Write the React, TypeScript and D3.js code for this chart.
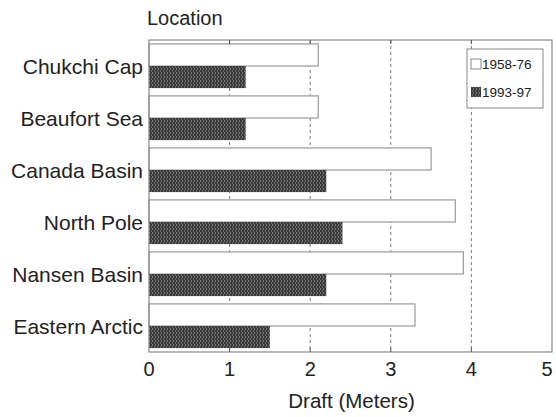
import * as d3 from "d3";
import { useEffect, useRef } from "react";

const locations = ["Chukchi Cap", "Beaufort Sea", "Canada Basin", "North Pole", "Nansen Basin", "Eastern Arctic"];
const early = [2.1, 2.1, 3.5, 3.8, 3.9, 3.3];
const late = [1.2, 1.2, 2.2, 2.4, 2.2, 1.5];
const seriesNames = ["1958-76", "1993-97"];
const xTicks = [0, 1, 2, 3, 4, 5];

const App = () => {
  const svgRef = useRef<SVGSVGElement>(null);

  useEffect(() => {
    const width = 556;
    const height = 417;
    const margin = { top: 40, right: 4, bottom: 65, left: 149 };
    const font = "'Liberation Sans', Arial, sans-serif";

    const svg = d3.select(svgRef.current);
    svg.selectAll("*").remove();

    const defs = svg.append("defs");
    const pat = defs
      .append("pattern")
      .attr("id", "hatch")
      .attr("patternUnits", "userSpaceOnUse")
      .attr("width", 3)
      .attr("height", 4);
    pat.append("rect").attr("width", 3).attr("height", 4).attr("fill", "#3a3a3a");
    pat.append("rect").attr("x", 2).attr("width", 1).attr("height", 2).attr("fill", "#777");
    pat.append("rect").attr("x", 1).attr("y", 2).attr("width", 1).attr("height", 2).attr("fill", "#666");

    const x = d3
      .scaleLinear()
      .domain([0, 5])
      .range([margin.left, width - margin.right]);

    const y = d3
      .scaleBand()
      .domain(locations)
      .range([margin.top, height - margin.bottom])
      .paddingInner(0.15)
      .paddingOuter(0.075);

    const inner = d3.scaleBand().domain(seriesNames).range([0, y.bandwidth()]);

    const top = margin.top;
    const bottom = height - margin.bottom;

    // grid
    svg
      .append("g")
      .selectAll("line")
      .data(xTicks.slice(1, -1))
      .join("line")
      .attr("x1", (d) => x(d))
      .attr("x2", (d) => x(d))
      .attr("y1", top)
      .attr("y2", bottom)
      .attr("stroke", "#555")
      .attr("stroke-dasharray", "3,3")
      .attr("stroke-width", 0.8);

    // bars
    const g = svg.append("g");
    locations.forEach((loc, i) => {
      g.append("rect")
        .attr("x", x(0))
        .attr("y", (y(loc) as number) + (inner("1958-76") as number))
        .attr("width", x(early[i]) - x(0))
        .attr("height", inner.bandwidth())
        .attr("fill", "white")
        .attr("stroke", "#999")
        .attr("stroke-width", 1.2);
      g.append("rect")
        .attr("x", x(0))
        .attr("y", (y(loc) as number) + (inner("1993-97") as number))
        .attr("width", x(late[i]) - x(0))
        .attr("height", inner.bandwidth())
        .attr("fill", "url(#hatch)");
    });

    // frame
    svg
      .append("rect")
      .attr("x", x(0))
      .attr("y", top)
      .attr("width", x(5) - x(0))
      .attr("height", bottom - top)
      .attr("fill", "none")
      .attr("stroke", "#888")
      .attr("stroke-width", 1.2);

    // tick marks top & bottom
    const tk = svg.append("g").attr("stroke", "#555");
    xTicks.slice(1, -1).forEach((t) => {
      tk.append("line").attr("x1", x(t)).attr("x2", x(t)).attr("y1", top).attr("y2", top + 4);
      tk.append("line").attr("x1", x(t)).attr("x2", x(t)).attr("y1", bottom).attr("y2", bottom - 4);
    });

    // tick labels (last one pulled in so it stays on the page)
    svg
      .append("g")
      .selectAll("text")
      .data(xTicks)
      .join("text")
      .attr("x", (d) => Math.min(x(d), width - 9))
      .attr("y", bottom + 24)
      .attr("text-anchor", "middle")
      .attr("font-family", font)
      .attr("font-size", 20)
      .attr("fill", "#222")
      .text((d) => d);

    // category labels
    svg
      .append("g")
      .selectAll("text")
      .data(locations)
      .join("text")
      .attr("x", margin.left - 6)
      .attr("y", (d) => (y(d) as number) + y.bandwidth() / 2 + 7.5)
      .attr("text-anchor", "end")
      .attr("font-family", font)
      .attr("font-size", 21)
      .attr("fill", "#222")
      .text((d) => d);

    svg
      .append("text")
      .attr("x", margin.left - 2)
      .attr("y", 25)
      .attr("font-family", font)
      .attr("font-size", 20)
      .attr("fill", "#222")
      .text("Location");

    svg
      .append("text")
      .attr("x", (x(0) + x(5)) / 2 + 1)
      .attr("y", 408)
      .attr("text-anchor", "middle")
      .attr("font-family", font)
      .attr("font-size", 20.5)
      .attr("fill", "#222")
      .text("Draft (Meters)");

    // legend
    const lg = svg.append("g");
    lg.append("rect")
      .attr("x", 467)
      .attr("y", 49)
      .attr("width", 76)
      .attr("height", 59)
      .attr("fill", "white")
      .attr("stroke", "#888");
    seriesNames.forEach((s, i) => {
      const cy = 64 + i * 28;
      lg.append("rect")
        .attr("x", 471)
        .attr("y", cy - 5)
        .attr("width", 10)
        .attr("height", 10)
        .attr("fill", i === 0 ? "white" : "url(#hatch)")
        .attr("stroke", i === 0 ? "#888" : "none");
      lg.append("text")
        .attr("x", 482)
        .attr("y", cy + 5)
        .attr("font-family", font)
        .attr("font-size", 13.5)
        .attr("fill", "#222")
        .text(s);
    });
  }, []);

  return (
    <svg
      ref={svgRef}
      width={556}
      height={417}
      style={{ position: "absolute", left: 0, top: 0, display: "block" }}
    ></svg>
  );
};

export default App;
